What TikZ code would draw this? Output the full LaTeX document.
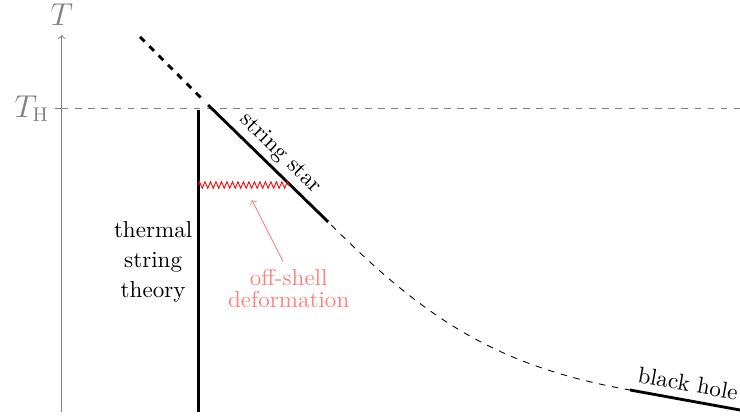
\documentclass[tikz,border=0pt]{standalone}
\usetikzlibrary{decorations.pathmorphing}
\begin{document}
\begin{tikzpicture}[
    every node/.style={font=\fontsize{10.5}{12.6}\selectfont},
    axis/.style={black!50},
    axislabel/.style={axis, font=\fontsize{13.5}{16}\selectfont},
    phase/.style={line width=1.3pt},
    deform/.style={red!50},
]
\useasboundingbox (0,0) rectangle (11.84,6.70);
% temperature axis with Hagedorn tick
\coordinate (Tbot) at (0.99,0.11);
\coordinate (Ttop) at (0.99,6.14);
\coordinate (THl) at (0.88,4.96);
\coordinate (THr) at (1.09,4.96);
\coordinate (THend) at (11.84,4.96);
\draw[->, axis] (Tbot) -- (Ttop) node[above, yshift=1pt, axislabel] (Tlab) {$T$};
\draw[axis] (THl) -- (THr);
\node[axislabel, left, inner sep=2.5pt] (THlab) at (THl) {$T_{\mathrm{H}}$};
\draw[axis, dashed] (Tbot |- THl) -- (THend);
% string star branch, continued above T_H
\coordinate (SSext) at (2.24,6.11);
\coordinate (SSh) at (3.28,5.07);
\coordinate (SStop) at (3.33,5.02);
\coordinate (SSbot) at (5.25,3.15);
\draw[phase, dashed] (SSext) -- (SSh);
\draw[phase] (SStop) -- node[pos=0.51, above, sloped, inner sep=2pt] (SSlab) {string star} (SSbot);
% thermal string theory branch
\coordinate (THtop) at (3.17,4.94);
\coordinate (THbot) at (3.17,0.11);
\draw[phase] (THtop) -- (THbot);
\node[align=center] (TSlab) at (2.45,2.51) {thermal\\[1.2pt]string\\[1.2pt]theory};
% black hole branch, joined by dashed crossover
\coordinate (BHtop) at (10.08,0.46);
\coordinate (BHbot) at (11.84,0.14);
\draw[dashed] (SSbot) ++(0.05,-0.05) to[out=-45, in=170] (BHtop);
\draw[phase] (BHtop) -- node[midway, above, sloped] (BHlab) {black hole} (BHbot);
% off-shell deformation between the two branches
\coordinate (ZZl) at (3.17,3.74);
\coordinate (ZZr) at (4.64,3.74);
\draw[red, decorate, decoration={zigzag, segment length=2.5pt, amplitude=1.5pt}] (ZZl) -- (ZZr);
\node[deform, align=center] (OSlab) at (4.62,2.08) {off-shell\\[-2.5pt]deformation};
\coordinate (OStip) at (4.03,3.50);
\draw[->, deform] (OSlab.north) ++(-0.09,0) -- (OStip);
\end{tikzpicture}
\end{document}
